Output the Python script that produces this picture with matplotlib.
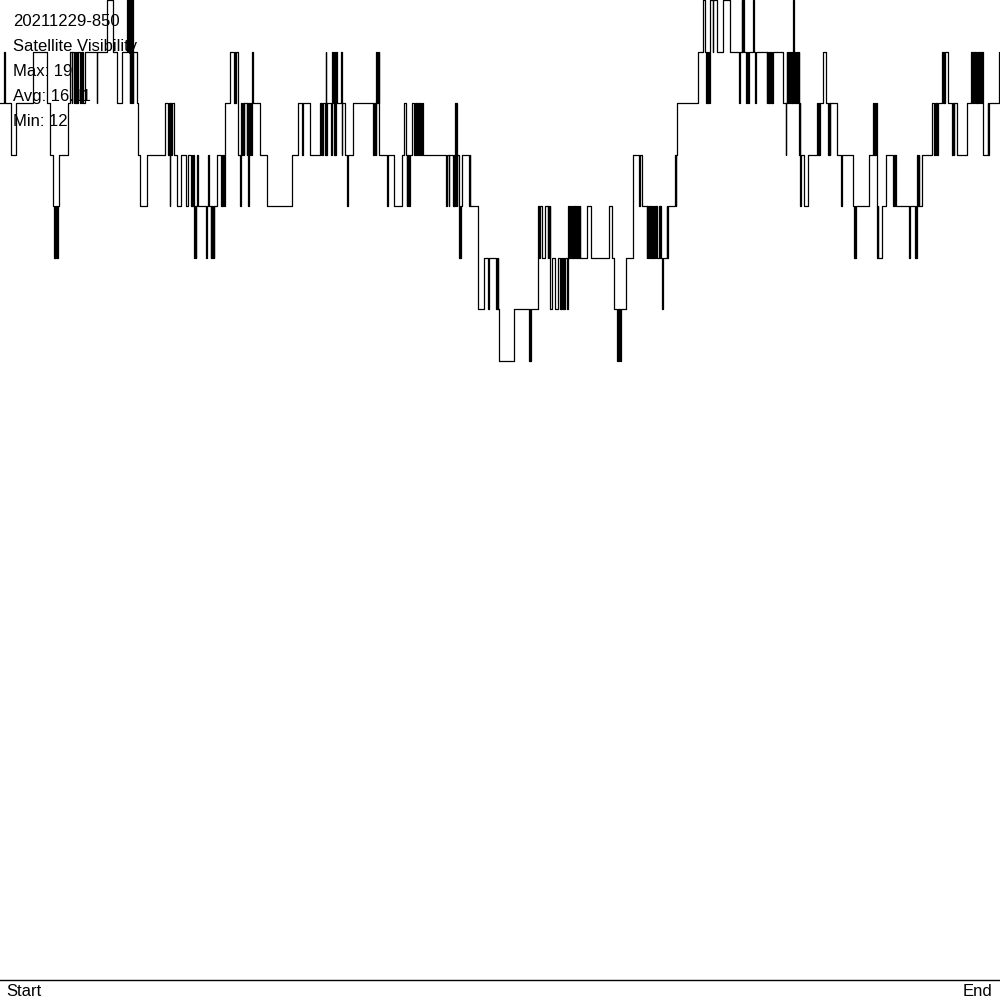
import matplotlib
matplotlib.use("Agg")
import matplotlib.pyplot as plt
import numpy as np

# satellite count change points: (time in samples 0..1000, count)
part_a = [(0, 17), (4, 18), (4.8, 17), (11, 16), (16, 17), (33, 18), (47, 17), (50, 16), (53, 15),
          (54, 14), (54.7, 15), (55.4, 14), (56.1, 15), (56.8, 14), (57.5, 15), (59, 16), (68, 17),
          (70, 18), (71.7, 17), (72.3, 18), (74, 17), (74.6, 18), (76, 17), (76.6, 18), (77.3, 17),
          (77.9, 18), (80, 17), (80.6, 18), (81.7, 17), (82.3, 18), (83, 17), (85, 18), (96.7, 17),
          (97.3, 18), (107, 19), (113, 18), (117, 17), (122, 18), (127, 19), (127.7, 18), (129, 19),
          (129.7, 17), (130.4, 19), (131.1, 17), (131.8, 19), (132.5, 17), (133, 18), (137, 17),
          (138, 16), (140, 15), (147, 16)]
part_b = [(165, 17), (168.3, 16), (169, 17), (169.7, 15), (170.3, 17), (171, 16), (171.7, 17),
          (174.3, 16), (177.3, 15), (181.3, 16), (186.3, 15), (188.3, 16), (191, 15), (191.7, 16),
          (192.4, 15), (193.1, 16), (193.8, 15), (194.3, 14), (194.9, 15), (195.5, 14), (196.1, 15),
          (196.7, 16), (198.3, 15), (206.3, 14), (206.9, 15), (208.3, 16), (209.3, 15), (210.7, 14),
          (211.4, 15), (212.1, 14), (212.8, 15), (213.5, 14), (214.3, 15), (217.3, 16), (221, 15),
          (221.7, 16), (222.4, 15), (223.1, 16), (223.8, 15), (224.5, 16), (225.2, 17), (230, 18),
          (234, 17), (234.7, 18), (235.4, 17), (236.1, 18), (238.3, 16), (240, 15), (240.5, 17),
          (242.3, 16), (243, 17), (243.6, 16), (244.3, 17), (246.7, 16), (247.3, 17), (248, 15),
          (248.6, 16), (249.2, 17), (249.8, 16), (250.4, 17), (251, 16), (251.6, 17), (252.2, 18),
          (252.7, 17), (260, 16), (266.7, 15), (292.3, 16), (298.3, 17), (302.3, 16), (302.9, 17),
          (310, 16)]
part_c = [(320, 17), (320.7, 16), (321.4, 17), (322.1, 16), (322.8, 17), (325, 16), (325.6, 18),
          (326.2, 16), (326.8, 17), (331, 16), (331.7, 17), (332.3, 18), (333, 17), (333.6, 18),
          (334.2, 16), (334.8, 18), (335.4, 16), (336, 18), (336.7, 17), (341, 18), (341.6, 16),
          (342.2, 17), (345, 16), (347.3, 15), (347.9, 16), (353.3, 17), (373.3, 16), (374, 17),
          (374.6, 16), (375.2, 17), (375.8, 16), (376.4, 18), (377, 17), (377.6, 18), (378.2, 17),
          (378.8, 18), (379.3, 16), (386.7, 15), (388.3, 16), (394, 15), (402.3, 16), (404.3, 17),
          (406, 16), (406.6, 15), (407.2, 16), (407.8, 15), (408.4, 16), (409, 15), (409.5, 16),
          (412.3, 17), (414.3, 16), (415, 17), (415.7, 16), (416.4, 17), (417.1, 16), (417.8, 17),
          (418.5, 16), (419.2, 17), (419.9, 16), (420.6, 17), (421.3, 16), (422, 17), (422.7, 16),
          (446, 15), (446.6, 16), (448.7, 15), (449.3, 16), (453, 15), (453.7, 16), (454.4, 15),
          (455, 17), (455.6, 15), (456.2, 17), (456.8, 15), (457.4, 16), (459, 14), (459.7, 15),
          (460.4, 14), (461, 15), (461.7, 16), (469, 15), (469.6, 16), (470.2, 15)]
part_d = [(478.3, 13), (484.3, 14), (488.3, 13), (488.8, 14), (496, 13), (496.6, 14), (497.2, 13),
          (497.8, 14), (498.4, 13), (499.3, 12), (514.3, 13), (529.3, 12), (529.9, 13), (530.3, 12),
          (530.8, 13), (538.3, 15), (539.3, 14), (539.8, 15), (541.7, 14), (545.3, 15), (547.7, 14),
          (548.3, 15), (549, 14), (549.6, 15), (550.2, 13), (551.7, 14), (555, 13), (558.3, 14),
          (560, 13), (560.7, 14), (561.4, 13), (562.1, 14), (562.8, 13), (563.5, 14), (564.2, 13),
          (564.9, 14), (567.3, 13), (567.9, 14), (568.3, 15), (569, 14), (569.7, 15), (570.4, 14),
          (571.1, 15), (571.8, 14), (572.5, 15), (573.2, 14), (573.9, 15), (574.6, 14), (575.3, 15),
          (576, 14), (576.7, 15), (577.4, 14), (578.1, 15), (578.8, 14), (579.5, 15), (580, 14),
          (587.3, 15), (591, 14), (609.3, 15), (611.7, 14), (614.3, 13), (617.3, 12), (618, 13),
          (618.7, 12), (619.4, 13), (620, 12), (620.7, 13), (625.7, 14), (633.3, 16), (639.3, 15),
          (639.8, 16), (641.7, 15)]
part_e = [(646.7, 14), (647.4, 15), (648.1, 14), (648.8, 15), (649.5, 14), (650.2, 15), (650.9, 14),
          (651.6, 15), (652.3, 14), (653, 15), (654.3, 14), (655, 15), (655.7, 14), (656.4, 15),
          (657, 14), (659, 15), (659.7, 14), (660.4, 15), (661.1, 14), (662.3, 13), (662.9, 14),
          (666.7, 15), (667.2, 14), (668.3, 15), (675, 16), (675.6, 15), (676.2, 16), (676.7, 17),
          (698.3, 18), (702.7, 19), (705, 18), (706, 17), (706.7, 18), (707.4, 17), (708.1, 18),
          (708.8, 17), (709.5, 18), (710.2, 19), (712.7, 18), (713.1, 19), (717.3, 18), (723.3, 19),
          (730, 18), (739.3, 17), (739.8, 18), (741.7, 19), (742.3, 18), (742.9, 19), (743.5, 18),
          (746, 17), (746.5, 18), (748, 17), (748.5, 18), (753.3, 19), (753.8, 18), (755, 17),
          (755.5, 18), (766.7, 17), (767.3, 18), (768, 17), (768.7, 18), (769.4, 17), (770.1, 18),
          (770.8, 17), (771.5, 18), (772.2, 17), (772.7, 18), (782.7, 17), (786, 16), (786.4, 17),
          (786.7, 18), (787.4, 17), (788.1, 18), (788.8, 17), (789.5, 18), (791, 17), (791.7, 18),
          (792.4, 17), (793.1, 19), (793.6, 17), (794.3, 18), (795, 17), (795.7, 18), (796.4, 17),
          (797.1, 18), (797.8, 17), (798.5, 18), (799.3, 16), (799.9, 17)]
part_f = [(800, 15), (800.5, 16), (804, 15), (808.3, 16), (817.3, 17), (818, 16), (818.7, 17),
          (819.4, 16), (820, 17), (823.3, 18), (825.7, 17), (828.3, 16), (829, 17), (829.5, 16),
          (830, 17), (837.3, 16), (841.3, 15), (841.8, 16), (853.3, 15), (854, 14), (854.7, 15),
          (855.4, 14), (856, 15), (869.3, 16), (873.3, 17), (874, 16), (874.7, 17), (875.4, 16),
          (876, 17), (876.5, 15), (877, 14), (877.7, 15), (878.4, 14), (882.3, 15), (885.7, 16),
          (893.3, 15), (894, 16), (894.7, 15), (895.4, 16), (896.1, 15), (909.3, 14), (909.8, 15),
          (915, 14), (915.7, 15), (916.4, 14), (917.3, 16), (917.9, 15), (918.5, 16), (919.3, 15),
          (921.7, 16), (931.7, 17), (934.3, 16), (935, 17), (935.7, 16), (936.4, 17), (937.1, 16),
          (937.8, 17), (942.3, 18), (943, 17), (943.7, 18), (944.4, 17), (945, 18), (947.7, 17),
          (952.3, 16), (953, 17), (953.7, 16), (954.4, 17), (957.3, 16), (966.7, 17), (971, 18),
          (971.7, 17), (972.4, 18), (973.1, 17), (973.8, 18), (974.5, 17), (975.2, 18), (975.9, 17),
          (976.6, 18), (977.3, 17), (978, 18), (978.7, 17), (979.4, 18), (980.1, 17), (980.8, 18),
          (981.5, 17), (982.2, 18), (982.7, 16), (987.7, 17), (988.2, 16), (989.3, 17), (999.3, 18),
          (1000, 18)]

session = "20211229-850"
max_sats, avg_sats, min_sats = 19, 16.11, 12

steps = part_a + part_b + part_c + part_d + part_e + part_f
t = np.array([s[0] for s in steps])
n = np.array([s[1] for s in steps])

plt.rcParams['font.family'] = ['Liberation Sans', 'DejaVu Sans']

fig = plt.figure(figsize=(10, 10), dpi=100)
ax = fig.add_axes([0, 0.02, 1, 0.98])
ax.step(t, n, where='post', color='black', lw=0.9, clip_on=False)
ax.axhline(0, color='black', lw=1, clip_on=False)
ax.set_xlim(0, 1000)
ax.set_ylim(0, 19)
ax.axis('off')

labels = [session, "Satellite Visibility", f"Max: {max_sats}", f"Avg: {avg_sats}", f"Min: {min_sats}"]
for i, s in enumerate(labels):
    fig.text(0.013, 1 - (0.0215 + 0.025 * i), s, fontsize=12, va='center', ha='left')
fig.text(0.006, 0.0085, "Start", fontsize=12, va='center', ha='left')
fig.text(0.992, 0.0085, "End", fontsize=12, va='center', ha='right')

fig.savefig("out.png", dpi=100, facecolor='white')
